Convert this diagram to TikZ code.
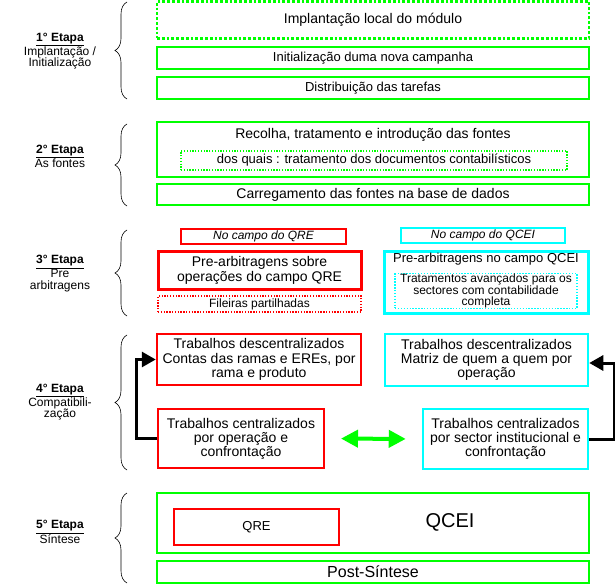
\documentclass[tikz,border=0pt]{standalone}
\usepackage{fontspec}
\setmainfont{Liberation Sans}
\usetikzlibrary{arrows.meta,decorations.pathreplacing}

\definecolor{boxgreen}{RGB}{0,255,0}
\definecolor{boxred}{RGB}{255,0,0}
\definecolor{boxcyan}{RGB}{0,255,255}
\newcommand\sz[2]{\fontsize{#1}{#2}\selectfont}

\begin{document}
\begin{tikzpicture}[x=1pt,y=-1pt,
  box/.style={inner sep=0pt, align=center},
  greenbox/.style={box, draw=boxgreen, line width=2.8pt, minimum width=432pt},
  greendots/.style={greenbox, dash pattern=on 2.8pt off 2pt},
  redbox/.style={box, draw=boxred, line width=2pt},
  cyanbox/.style={box, draw=boxcyan, line width=2.5pt},
  thinred/.style={box, draw=boxred, line width=1.3pt},
  thincyan/.style={box, draw=boxcyan, line width=1.4pt},
  stage/.style={align=center, font=\sz{12}{11.5}},
  stagebrace/.style={decorate, decoration={brace, amplitude=12pt}, line width=0.6pt},
  backarrow/.style={line width=3pt, -{Triangle[length=14pt,width=15pt]}},
  bothways/.style={boxgreen, line width=4pt, {Triangle[length=17pt,width=17pt]}-{Triangle[length=17pt,width=17pt]}, shorten <=16pt, shorten >=16pt},
]
\useasboundingbox (0,0) rectangle (615,585);

% 1° Etapa
\node[stage] (stage1) at (60,51) {\underline{\textbf{1° Etapa}}\\Implantação /\\Initialização};
\draw[stagebrace] (127,99) -- (127,2);
\node[greendots, minimum height=37pt, font=\sz{14}{16}] (implant) at (373,20) {Implantação local do módulo};
\node[greenbox, minimum height=22pt, font=\sz{13}{15}] (init) at (373,58) {Initialização duma nova campanha};
\node[greenbox, minimum height=22pt, font=\sz{13}{15}] (distrib) at (373,88) {Distribuição das tarefas};

% 2° Etapa
\node[stage] (stage2) at (60,156) {\underline{\textbf{2° Etapa}}\\As fontes};
\draw[stagebrace] (127,206) -- (127,124);
\node[greenbox, minimum height=55pt] (recolha) at (373,149.5) {};
\node[font=\sz{14}{16}] (recolhatxt) at (373,135) {Recolha, tratamento e introdução das fontes};
\node[box, draw=boxgreen, line width=1.3pt, dash pattern=on 1.3pt off 1.5pt, minimum width=386pt, minimum height=19pt, font=\sz{13}{15}] (contab) at (374,160.5) {dos quais : tratamento dos documentos contabilísticos};
\node[greenbox, minimum height=21pt, font=\sz{14}{16}] (carreg) at (373,194.5) {Carregamento das fontes na base de dados};

% 3° Etapa
\node[stage] (stage3) at (60,273.5) {\underline{\textbf{3° Etapa}}\\Pre\\arbitragens};
\draw[stagebrace] (127,316) -- (127,230);
\node[thinred, minimum width=165pt, minimum height=15pt, font=\sz{12}{14}\itshape] (campoqre) at (263.5,236.5) {No campo do QRE};
\node[thincyan, minimum width=164pt, minimum height=15pt, font=\sz{12}{14}\itshape] (campoqcei) at (483,235.5) {No campo do QCEI};
\node[redbox, line width=3pt, minimum width=203pt, minimum height=38pt, font=\sz{14}{15}] (prearbqre) at (259.5,270) {Pre-arbitragens sobre\\operações do campo QRE};
\node[thinred, dash pattern=on 1.3pt off 1.5pt, minimum width=203pt, minimum height=16pt, font=\sz{12}{14}] (fileiras) at (259.5,304) {Fileiras partilhadas};
\node[cyanbox, line width=3pt, minimum width=204pt, minimum height=62pt] (prearbqcei) at (486,282) {};
\node[font=\sz{13}{15}] (prearbqceitxt) at (486,259) {Pre-arbitragens no campo QCEI};
\node[thincyan, dash pattern=on 1.4pt off 1.5pt, minimum width=182pt, minimum height=34pt, font=\sz{12}{11}] (tratam) at (486,291) {Tratamentos avançados para os\\sectores com contabilidade\\completa};

% 4° Etapa
\node[stage] (stage4) at (60,402) {\underline{\textbf{4° Etapa}}\\Compatibili-\\zação};
\draw[stagebrace] (127,470) -- (127,335);
\node[redbox, line width=2.5pt, minimum width=204pt, minimum height=51pt, font=\sz{14}{14.5}] (descqre) at (259,359.5) {Trabalhos descentralizados\\Contas das ramas e EREs, por\\rama e produto};
\node[cyanbox, minimum width=203pt, minimum height=52pt, font=\sz{14}{14}] (descqcei) at (486.5,360) {Trabalhos descentralizados\\Matriz de quem a quem por\\operação};
\node[redbox, minimum width=166pt, minimum height=59pt, font=\sz{14}{14}] (centqre) at (241,438.5) {Trabalhos centralizados\\por operação e\\confrontação};
\node[cyanbox, minimum width=165pt, minimum height=60pt, font=\sz{14}{14}] (centqcei) at (505.5,439) {Trabalhos centralizados\\por sector institucional e\\confrontação};
\draw[backarrow] (centqre.west) -- ++(-21,0) |- (descqre.west);
\draw[backarrow] (centqcei.east) -- ++(25,0) |- ([yshift=-3pt]descqcei.east);
\draw[bothways] (centqre.east) -- (centqcei.west);

% 5° Etapa
\node[stage] (stage5) at (60,532) {\underline{\textbf{5° Etapa}}\\Síntese};
\draw[stagebrace] (127,583) -- (127,493);
\node[greenbox, minimum height=60pt] (sintese) at (373,523) {};
\node[redbox, minimum width=165pt, minimum height=36pt, font=\sz{13}{15}] (qre) at (256.5,527) {QRE};
\node[font=\sz{20}{22}] (qcei) at (450,522) {QCEI};
\node[greenbox, minimum height=22pt, font=\sz{16}{18}] (postsint) at (373,572) {Post-Síntese};
\end{tikzpicture}
\end{document}
